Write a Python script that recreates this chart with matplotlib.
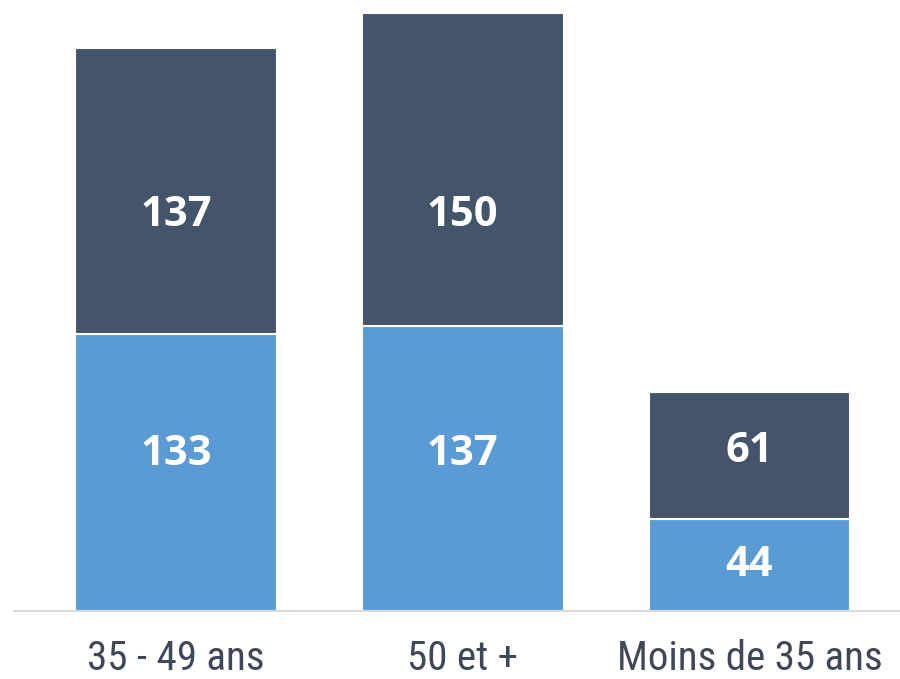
import numpy as np
import matplotlib
matplotlib.use("Agg")
import matplotlib.pyplot as plt

categories = ["35 - 49 ans", "50 et +", "Moins de 35 ans"]
bas = [133, 137, 44]     # light segment
haut = [137, 150, 61]    # dark segment

c_light = "#5B9BD5"
c_dark = "#44546A"

# label heights as placed in the original chart (data units)
y_bas = [75, 75, 22]
y_haut = [190, 190, 76.5]

fig = plt.figure(figsize=(9, 6.79), dpi=100)
ax = fig.add_axes([14/900, 68/679, 886/900, 598/679])

x = np.arange(len(categories))
w = 0.704
ax.bar(x, bas, w, color=c_light, edgecolor="white", linewidth=1.5)
ax.bar(x, haut, w, bottom=bas, color=c_dark, edgecolor="white", linewidth=1.5)

for i in range(len(categories)):
    ax.text(x[i], y_bas[i], str(bas[i]), ha="center", va="center", color="white",
            fontsize=30, fontweight="bold", family="Open Sans")
    ax.text(x[i], y_haut[i], str(haut[i]), ha="center", va="center", color="white",
            fontsize=30, fontweight="bold", family="Open Sans")

ax.set_xlim(-0.565, 2.525)
ax.set_ylim(0, 287)
ax.set_xticks(x)
ax.set_xticklabels(categories, family=["Roboto Condensed", "DejaVu Sans"],
                   fontsize=29.5, color="#3F4858")
ax.tick_params(axis="x", length=0, pad=20)
ax.set_yticks([])
for s in ["top", "right", "left"]:
    ax.spines[s].set_visible(False)
ax.spines["bottom"].set_color("#D9D9D9")
ax.spines["bottom"].set_linewidth(1.5)

fig.savefig("out.png", dpi=100)
